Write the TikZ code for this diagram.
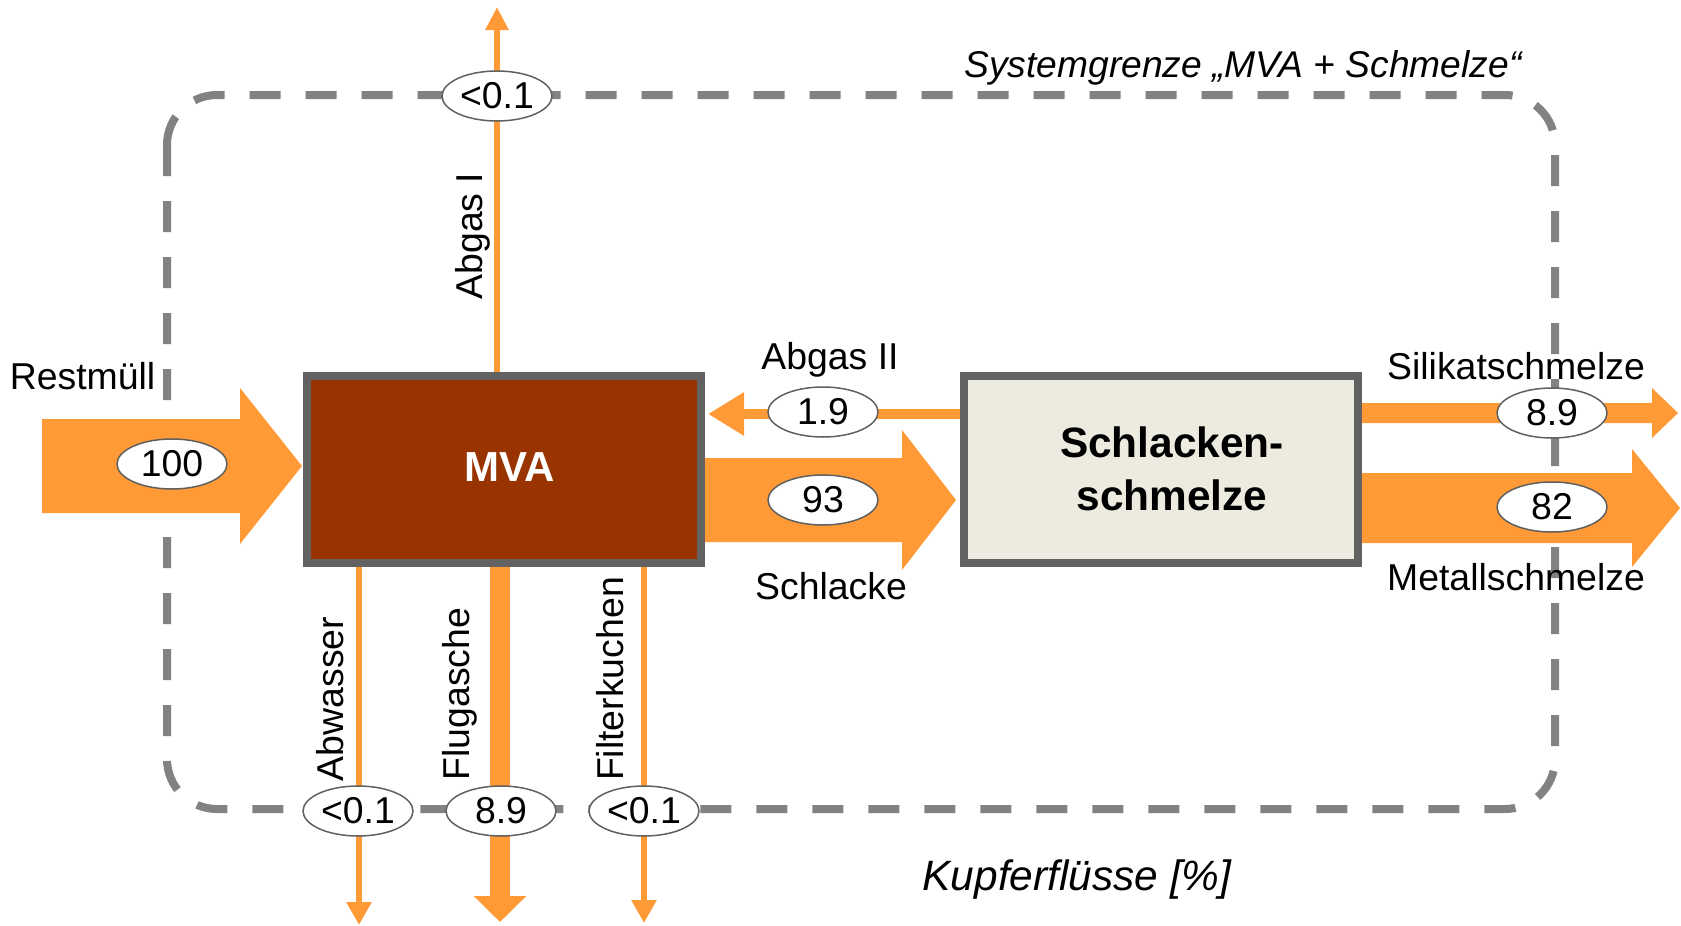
\documentclass[tikz,border=0pt]{standalone}
\usepackage{fontspec}
\setmainfont{Liberation Sans}
\usetikzlibrary{shapes.geometric,arrows.meta}
\definecolor{flow}{HTML}{FF9A36}
\definecolor{boxgray}{HTML}{626262}
\definecolor{dashgray}{HTML}{828282}
\definecolor{mvabrown}{HTML}{993300}
\definecolor{slagbeige}{HTML}{EDEBE0}
\definecolor{ellgray}{HTML}{606060}
\tikzset{
  boundary/.style={draw=dashgray, line width=4pt, dash pattern=on 15.5pt off 12.5pt, rounded corners=25pt},
  fatflow/.style={fill=flow, draw=none},
  thinflow/.style={draw=flow, line width=3pt, -{Triangle[width=12pt,length=11.5pt]}},
  procbox/.style={rectangle, draw=boxgray, line width=4pt, minimum width=197pt, minimum height=93.5pt, inner sep=0pt},
  val/.style={ellipse, draw=ellgray, line width=0.75pt, fill=white, minimum width=55pt, minimum height=25pt, inner sep=0pt, font=\fontsize{18.7}{21}\selectfont},
  lbl/.style={inner sep=0pt, font=\fontsize{18.7}{21}\selectfont},
}
\begin{document}
\begin{tikzpicture}[x=0.5pt,y=-0.5pt]
\useasboundingbox (0,0) rectangle (1681,926);
% system boundary
\draw[boundary] (167,95) rectangle (1555,809);
% coordinates for free ends
\coordinate (tAbgasI) at (497,7);
\coordinate (tAbw) at (359,925);
\coordinate (tFlug) at (500,922);
\coordinate (tFilt) at (644,923);
\coordinate (tAbgasII) at (708,414);
% fat flows
\fill[fatflow] (42,419) -- (240,419) -- (240,388) -- (302,466) -- (240,544) -- (240,513) -- (42,513) -- cycle;
\fill[fatflow] (705,458) -- (902,458) -- (902,430) -- (956,500) -- (902,570) -- (902,542) -- (705,542) -- cycle;
\fill[fatflow] (1362,403) -- (1652,403) -- (1652,388) -- (1678,413) -- (1652,438) -- (1652,423) -- (1362,423) -- cycle;
\fill[fatflow] (1362,473) -- (1632,473) -- (1632,449) -- (1680,508) -- (1632,567) -- (1632,543) -- (1362,543) -- cycle;
% boxes (positions)
\node[procbox, fill=mvabrown] (mva) at (504,469.5) {};
\node[procbox, fill=slagbeige] (schl) at (1161,469.5) {};
% thin flows
\draw[thinflow, -{Triangle[width=11pt,length=11.5pt]}] (mva.north -| tAbgasI) -- (tAbgasI);
\draw[thinflow] (mva.south -| tAbw) -- (tAbw);
\draw[thinflow, line width=10pt, -{Triangle[width=25.5pt,length=13pt]}] (mva.south -| tFlug) -- (tFlug);
\draw[thinflow] (mva.south -| tFilt) -- (tFilt);
\draw[thinflow, line width=5pt, -{Triangle[width=20.5pt,length=18pt]}] (schl.west |- tAbgasII) -- (tAbgasII);
% redraw boxes on top of line starts
\node[procbox, fill=mvabrown] at (mva) {};
\node[procbox, fill=slagbeige] at (schl) {};
% values
\node[val] (e100) at (172,464) {100};
\node[val] (eA1) at (497,96) {<0.1};
\node[val] (e19) at (823,412) {1.9};
\node[val] (e93) at (823,500) {93};
\node[val] (e89s) at (1552,413) {8.9};
\node[val] (e82) at (1552,507) {82};
\node[val] (eAbw) at (358,811) {<0.1};
\node[val] (eFlug) at (501,811) {8.9};
\node[val] (eFilt) at (644,811) {<0.1};
% box texts
\node[inner sep=0pt, anchor=base, text=white, font=\fontsize{21}{25}\selectfont\bfseries] (tmva) at (509.5,481) {MVA};
\node[inner sep=0pt, anchor=base, font=\fontsize{21.2}{25}\selectfont\bfseries] (tschl1) at (1172,457) {Schlacken-};
\node[inner sep=0pt, anchor=base, font=\fontsize{21.2}{25}\selectfont\bfseries] (tschl2) at (1172,510) {schmelze};
% flow labels
\node[lbl, anchor=base] (lRest) at (82.5,389) {Restmüll};
\node[lbl, anchor=base] (lA2) at (830,369) {Abgas II};
\node[lbl, anchor=base] (lSchl) at (831,599) {Schlacke};
\node[lbl, anchor=base] (lSil) at (1516,379) {Silikatschmelze};
\node[lbl, anchor=base] (lMet) at (1516,590) {Metallschmelze};
\node[lbl, anchor=base, rotate=90] (lA1) at (482,236) {Abgas I};
\node[lbl, anchor=base, rotate=90] (lAbw) at (343,699) {Abwasser};
\node[lbl, anchor=base, rotate=90] (lFlug) at (469,694) {Flugasche};
\node[lbl, anchor=base, rotate=90] (lFilt) at (623,679) {Filterkuchen};
% titles
\node[lbl, anchor=base, font=\fontsize{18.6}{21}\selectfont\itshape] (tSys) at (1243,77) {Systemgrenze „MVA + Schmelze“};
\node[lbl, anchor=base, font=\fontsize{21.2}{25}\selectfont\itshape] (tKup) at (1077,890) {Kupferflüsse [\%]};
\end{tikzpicture}
\end{document}
